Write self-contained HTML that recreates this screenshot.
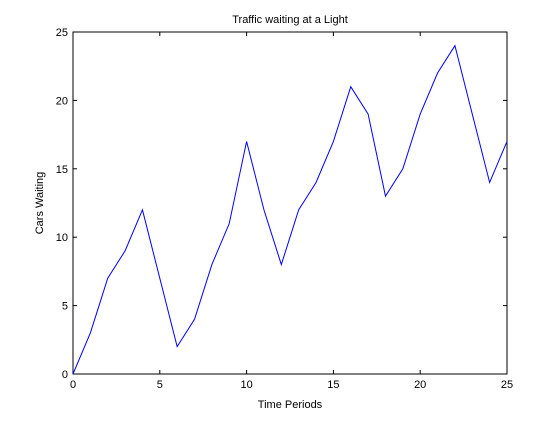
<!DOCTYPE html>
<html><head><meta charset="utf-8"><style>
body{margin:0;background:#fff;}
svg text{font-family:"Liberation Sans",sans-serif;font-size:11px;fill:#000;}
</style></head><body>
<svg width="560" height="420" xmlns="http://www.w3.org/2000/svg">
<rect width="560" height="420" fill="#fff"/>
<g id="axes"></g>
<polyline id="line" fill="none" stroke="#0000ff" stroke-width="1"/>
<text x="290" y="23" text-anchor="middle">Traffic waiting at a Light</text>
<text x="290" y="408" text-anchor="middle">Time Periods</text>
<text transform="translate(43,203) rotate(-90)" text-anchor="middle">Cars Waiting</text>
</svg>
<script>
const xs=[0,1,2,3,4,5,6,7,8,9,10,11,12,13,14,15,16,17,18,19,20,21,22,23,24,25];
const ys=[0,3,7,9,12,7,2,4,8,11,17,12,8,12,14,17,21,19,13,15,19,22,24,19,14,17];
const xTicks=[0,5,10,15,20,25];
const yTicks=[0,5,10,15,20,25];
const L=73,R=507,T=32,B=374;
const sx=v=>L+(v-0)/25*(R-L);
const sy=v=>B-(v-0)/25*(B-T);
const NS='http://www.w3.org/2000/svg';
const ax=document.getElementById('axes');
function mk(t,a){const e=document.createElementNS(NS,t);for(const k in a)e.setAttribute(k,a[k]);ax.appendChild(e);return e;}
const fr=mk('rect',{x:L,y:T,width:R-L,height:B-T,fill:'none',stroke:'#000','stroke-width':1});


xTicks.forEach(v=>{const x=sx(v);
 const t1=mk('line',{x1:x,x2:x,y1:B,y2:B-4,stroke:'#000'});
 
 
 const t2=mk('line',{x1:x,x2:x,y1:T,y2:T+4,stroke:'#000'});
 
 
 const tx=mk('text',{x:x,y:B+14,'text-anchor':'middle'});tx.textContent=v;
 
 
});
yTicks.forEach(v=>{const y=sy(v);
 const t1=mk('line',{x1:L,x2:L+4,y1:y,y2:y,stroke:'#000'});
 
 
 const t2=mk('line',{x1:R,x2:R-4,y1:y,y2:y,stroke:'#000'});
 
 
 const tx=mk('text',{x:L-5,y:y+4,'text-anchor':'end'});tx.textContent=v;
 
 
});
document.getElementById('line').setAttribute('points',xs.map((x,i)=>sx(x)+','+sy(ys[i])).join(' '));
</script>
</body></html>
